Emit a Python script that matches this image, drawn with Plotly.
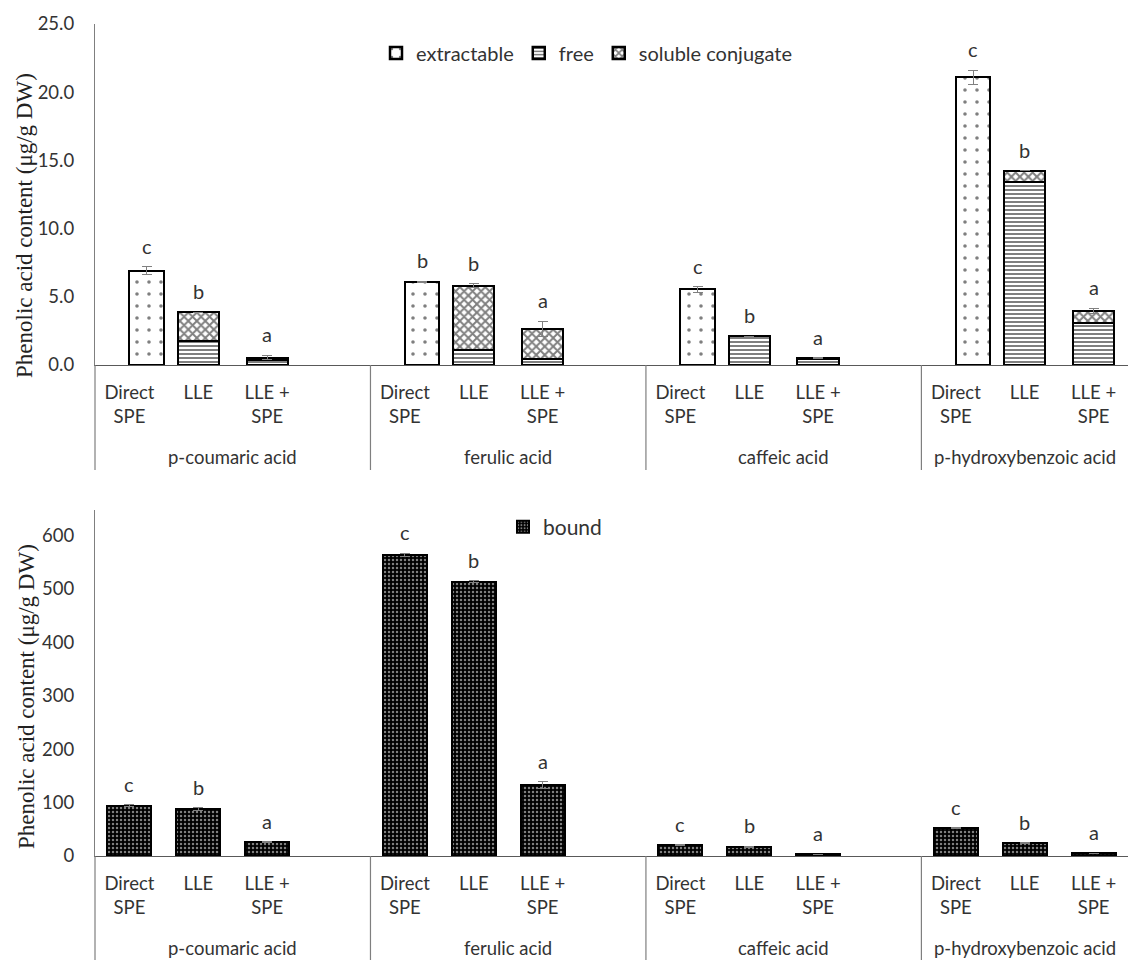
import plotly.graph_objects as go

# ---------------- data ----------------
acids = ["p-coumaric acid", "ferulic acid", "caffeic acid", "p-hydroxybenzoic acid"]
methods = ["Direct<br>SPE", "LLE", "LLE +<br>SPE"]

# top panel (µg/g DW)
extractable_direct = [6.9, 6.1, 5.55, 21.1]
extractable_err = [0.3, 0.05, 0.2, 0.5]
free_lle = [1.75, 1.1, 2.1, 13.45]
soluble_lle = [2.1, 4.7, 0.0, 0.8]
lle_err = [0.0, 0.15, 0.0, 0.0]
free_llespe = [0.35, 0.42, 0.45, 3.1]
soluble_llespe = [0.2, 2.22, 0.05, 0.85]
llespe_err = [0.15, 0.55, 0.05, 0.2]
letters_top = [["c", "b", "a"], ["b", "b", "a"], ["c", "b", "a"], ["c", "b", "a"]]

# bottom panel (µg/g DW)
bound_direct = [94, 563, 20.5, 51.5]
bound_lle = [88, 513, 17.5, 23.5]
bound_llespe = [25.5, 132.5, 3.0, 5.0]
bound_direct_err = [2, 3, 1, 1]
bound_lle_err = [2, 2, 1, 1]
bound_llespe_err = [1, 6, 0.5, 0.5]
letters_bottom = [["c", "b", "a"], ["c", "b", "a"], ["c", "b", "a"], ["c", "b", "a"]]

# ---------------- layout helpers ----------------
W, H = 1128, 960
ML = 95
PW = W - ML
FONT = "Lato"
TXT = "#333333"
LINE = "#7f7f7f"

def py(pix):
    return (H - pix) / H

def slot(g, m):
    return g * 4 + m

ng = len(acids)
tickvals = [slot(g, m) for g in range(ng) for m in range(3)]
ticktext = [methods[m] for g in range(ng) for m in range(3)]
group_centers = [slot(g, 1.5) for g in range(ng - 1)] + [slot(ng - 1, 1)]

fig = go.Figure()

pat_extract = dict(shape=".", fgcolor="black", bgcolor="white", size=12, solidity=0.07)
pat_free = dict(shape="-", fgcolor="black", bgcolor="white", size=4, solidity=0.5)
pat_sol = dict(shape="x", fgcolor="black", bgcolor="white", size=6, solidity=0.55)
pat_bound = dict(shape=".", fgcolor="white", bgcolor="black", size=4, solidity=0.3)
outline = dict(color="black", width=2.5)
err_style = dict(type="data", color="#808080", thickness=1, width=5, visible=True)

# top traces
fig.add_trace(go.Bar(
    name="extractable", x=[slot(g, 0) + 0.25 for g in range(ng)], y=extractable_direct,
    width=0.5, marker=dict(color="white", pattern=pat_extract, line=outline),
    error_y=dict(array=extractable_err, **err_style), xaxis="x", yaxis="y", legend="legend"))
x_stack = [slot(g, 1) for g in range(ng)] + [slot(g, 2) for g in range(ng)]
fig.add_trace(go.Bar(
    name="free", x=x_stack, y=free_lle + free_llespe, width=0.6,
    marker=dict(color="white", pattern=pat_free, line=outline),
    xaxis="x", yaxis="y", legend="legend"))
fig.add_trace(go.Bar(
    name="soluble conjugate", x=x_stack, y=soluble_lle + soluble_llespe, width=0.6,
    marker=dict(color="white", pattern=pat_sol, line=outline),
    error_y=dict(array=lle_err + llespe_err, **err_style),
    xaxis="x", yaxis="y", legend="legend"))

# bottom trace
bx = [slot(g, m) for m in range(3) for g in range(ng)]
by = bound_direct + bound_lle + bound_llespe
be = bound_direct_err + bound_lle_err + bound_llespe_err
fig.add_trace(go.Bar(
    name="bound", x=bx, y=by, width=0.64,
    marker=dict(color="black", pattern=pat_bound, line=dict(color="black", width=2)),
    error_y=dict(array=be, **err_style), xaxis="x2", yaxis="y2", legend="legend2"))

annotations = []
# letters top
tops_top = [
    [extractable_direct[g] + extractable_err[g],
     free_lle[g] + soluble_lle[g] + lle_err[g],
     free_llespe[g] + soluble_llespe[g] + llespe_err[g]] for g in range(ng)]
for g in range(ng):
    for m in range(3):
        xx = slot(g, m) + (0.25 if m == 0 else 0)
        annotations.append(dict(x=xx, y=tops_top[g][m], xref="x", yref="y", text=letters_top[g][m],
                                showarrow=False, yanchor="middle", yshift=21,
                                font=dict(family=FONT, size=20, color=TXT)))
# letters bottom
bvals = [bound_direct, bound_lle, bound_llespe]
berrs = [bound_direct_err, bound_lle_err, bound_llespe_err]
for g in range(ng):
    for m in range(3):
        annotations.append(dict(x=slot(g, m), y=bvals[m][g] + berrs[m][g], xref="x2", yref="y2",
                                text=letters_bottom[g][m], showarrow=False, yanchor="middle", yshift=21,
                                font=dict(family=FONT, size=20, color=TXT)))
# group labels
for g in range(ng):
    for xr, ypix in (("x", 457), ("x2", 948)):
        annotations.append(dict(x=group_centers[g], y=py(ypix), xref=xr, yref="paper", text=acids[g],
                                showarrow=False, yanchor="middle",
                                font=dict(family=FONT, size=18.5, color=TXT)))
# y titles
for xpix, ypix in ((24, 226), (26, 697)):
    annotations.append(dict(x=(xpix - ML) / PW, y=py(ypix), xref="paper", yref="paper",
                            text="Phenolic acid content (μg/g DW)", textangle=-90, showarrow=False,
                            xanchor="center", yanchor="middle",
                            font=dict(family="Liberation Serif", size=23, color="#222222")))

shapes = []
for xr, y0, y1 in (("x", 365, 470), ("x2", 856, 960)):
    for g in range(1, ng):
        shapes.append(dict(type="line", xref=xr, yref="paper", x0=slot(g, -0.5), x1=slot(g, -0.5),
                           y0=py(y0), y1=py(y1), line=dict(color=LINE, width=1.2)))
    shapes.append(dict(type="line", xref="paper", yref="paper", x0=0, x1=0,
                       y0=py(y0), y1=py(y1), line=dict(color=LINE, width=1.2)))

xcommon = dict(range=[-0.5, 14.5], tickvals=tickvals, ticktext=ticktext, showline=True,
               linecolor="#595959", linewidth=1.2, ticks="", showgrid=False, zeroline=False,
               tickfont=dict(family=FONT, size=18.5, color=TXT), ticklabelstandoff=11,
               fixedrange=True, automargin=False)
ycommon = dict(showline=True, linecolor=LINE, linewidth=1.2, ticks="", showgrid=False,
               zeroline=False, tickfont=dict(family=FONT, size=18.5, color=TXT),
               ticklabelstandoff=16, automargin=False)

fig.update_layout(
    width=W, height=H, margin=dict(l=ML, r=0, t=0, b=0, autoexpand=False),
    paper_bgcolor="white", plot_bgcolor="white", barmode="stack", bargap=0,
    xaxis=dict(domain=[0, 1], anchor="y", **xcommon),
    yaxis=dict(domain=[py(365), py(24)], anchor="x", range=[0, 25], tickvals=[0, 5, 10, 15, 20, 25],
               tickformat=".1f", **ycommon),
    xaxis2=dict(domain=[0, 1], anchor="y2", **xcommon),
    yaxis2=dict(domain=[py(856), py(510)], anchor="x2", range=[0, 647],
                tickvals=[0, 100, 200, 300, 400, 500, 600], **ycommon),
    legend=dict(orientation="h", x=(376 - ML) / PW, y=py(53), xanchor="left", yanchor="middle",
                font=dict(family=FONT, size=20, color=TXT), bgcolor="rgba(0,0,0,0)",
                itemwidth=30, traceorder="normal"),
    legend2=dict(orientation="h", x=(503 - ML) / PW, y=py(527), xanchor="left", yanchor="middle",
                 font=dict(family=FONT, size=21, color=TXT), bgcolor="rgba(0,0,0,0)", itemwidth=30),
    annotations=annotations, shapes=shapes, showlegend=True,
)

fig.write_html("out.html", config={"displayModeBar": False})

# remove the default page margin so the figure sits at the window origin
with open("out.html", "r", encoding="utf-8") as f:
    html = f.read()
html = html.replace("<head>", "<head><style>html,body{margin:0;padding:0;}</style>", 1)
with open("out.html", "w", encoding="utf-8") as f:
    f.write(html)
